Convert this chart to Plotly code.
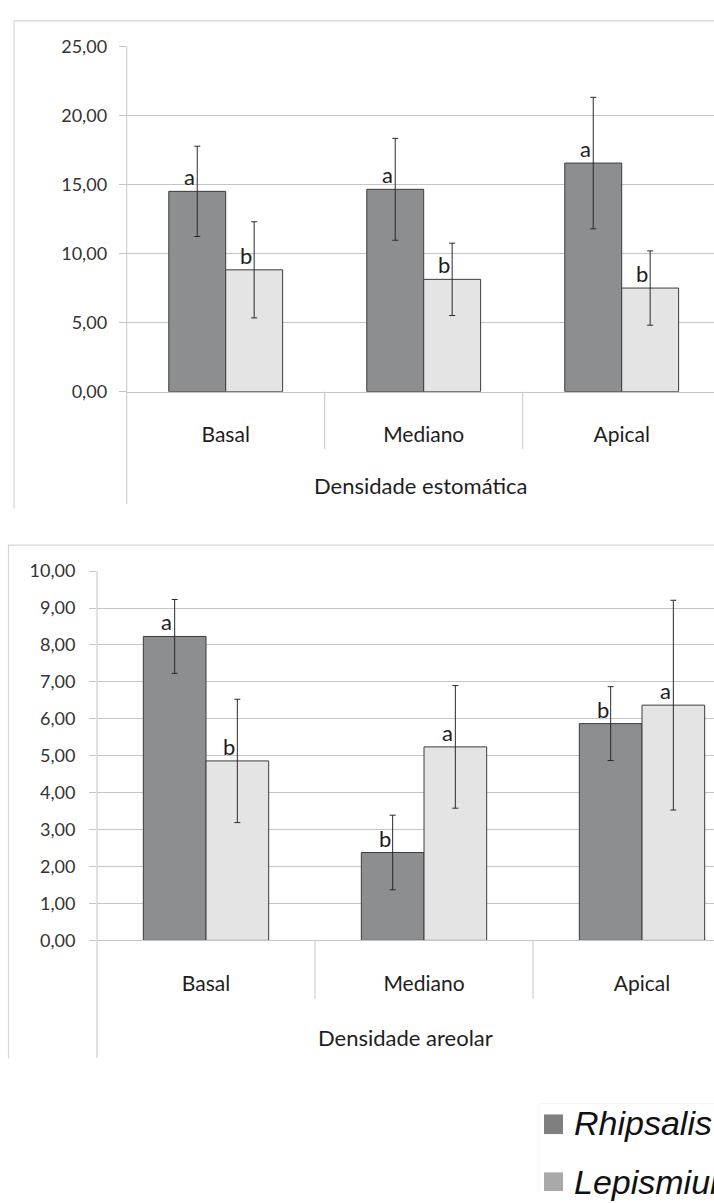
import plotly.graph_objects as go

categories = ["Basal", "Mediano", "Apical"]

# Densidade estomática
stom_rhip = [14.50, 14.65, 16.55]
stom_rhip_err = [3.27, 3.69, 4.76]
stom_lepi = [8.82, 8.13, 7.50]
stom_lepi_err = [3.48, 2.62, 2.69]
stom_rhip_letters = ["a", "a", "a"]
stom_lepi_letters = ["b", "b", "b"]

# Densidade areolar
areo_rhip = [8.23, 2.38, 5.87]
areo_rhip_err = [1.00, 1.01, 1.00]
areo_lepi = [4.86, 5.24, 6.37]
areo_lepi_err = [1.67, 1.66, 2.84]
areo_rhip_letters = ["a", "b", "b"]
areo_lepi_letters = ["b", "a", "a"]

series_names = ["Rhipsalis", "Lepismium"]

W, H = 714, 1203
DARK = "#8d8e90"
LIGHT = "#e4e4e4"
EDGE = "#3c3c3c"
GRID = "#c4c4c4"
FONT = "Lato"
BARGAP = 0.425

def py(px):  # pixel from top -> paper y
    return 1 - px / H

def px_(x):
    return x / W

fig = go.Figure()

def add_pair(xa, ya, v1, e1, v2, e2):
    for vals, errs, col, name in ((v1, e1, DARK, series_names[0]), (v2, e2, LIGHT, series_names[1])):
        fig.add_trace(go.Bar(
            x=categories, y=vals, name=name, xaxis=xa, yaxis=ya,
            marker=dict(color=col, line=dict(color=EDGE, width=1)),
            error_y=dict(type="data", array=errs, color="#2a2a2a", thickness=1, width=3),
            showlegend=False,
        ))

add_pair("x", "y", stom_rhip, stom_rhip_err, stom_lepi, stom_lepi_err)
add_pair("x2", "y2", areo_rhip, areo_rhip_err, areo_lepi, areo_lepi_err)

# letters
half = (1 - BARGAP) / 4
annots = []
def add_letters(xr, yr, vals, letters, side):
    for i, (v, t) in enumerate(zip(vals, letters)):
        annots.append(dict(x=i + side * half, y=v, xref=xr, yref=yr, text=t, showarrow=False,
                           xanchor="center", yanchor="bottom", xshift=-8, yshift=-1,
                           font=dict(family=FONT, size=22, color="#1e1e1e")))

add_letters("x", "y", stom_rhip, stom_rhip_letters, -1)
add_letters("x", "y", stom_lepi, stom_lepi_letters, 1)
add_letters("x2", "y2", areo_rhip, areo_rhip_letters, -1)
add_letters("x2", "y2", areo_lepi, areo_lepi_letters, 1)

# axis group titles
annots.append(dict(x=0.5, y=-0.271, xref="x domain", yref="y domain", text="Densidade estomática",
                   showarrow=False, xanchor="center", yanchor="middle",
                   font=dict(family=FONT, size=22, color="#1e1e1e")))
annots.append(dict(x=0.5, y=-0.264, xref="x2 domain", yref="y2 domain", text="Densidade areolar",
                   showarrow=False, xanchor="center", yanchor="middle",
                   font=dict(family=FONT, size=22, color="#1e1e1e")))

# legend (pasted) text
annots.append(dict(x=px_(572), y=py(1132), xref="paper", yref="paper", text="<i>Rhipsalis</i>",
                   showarrow=False, xanchor="left", yanchor="middle",
                   font=dict(family="Liberation Sans", size=34, color="#111111")))
annots.append(dict(x=px_(572), y=py(1192), xref="paper", yref="paper", text="<i>Lepismium</i>",
                   showarrow=False, xanchor="left", yanchor="middle",
                   font=dict(family="Liberation Sans", size=34, color="#111111")))

shapes = []
# frames
shapes.append(dict(type="path", xref="paper", yref="paper",
                   path=f"M {px_(14)} {py(506)} L {px_(14)} {py(9)} L 1.01 {py(9)}",
                   line=dict(color="#d6d6d6", width=1.2)))
shapes.append(dict(type="path", xref="paper", yref="paper",
                   path=f"M {px_(8.5)} {py(1066)} L {px_(8.5)} {py(543)} L 1.01 {py(543)}",
                   line=dict(color="#d6d6d6", width=1.2)))
# legend faint box
shapes.append(dict(type="path", xref="paper", yref="paper",
                   path=f"M {px_(539)} {py(1203)} L {px_(539)} {py(1112)} L 1.01 {py(1112)}",
                   line=dict(color="#f5f5f5", width=1)))
# legend squares
shapes.append(dict(type="rect", xref="paper", yref="paper", x0=px_(544), x1=px_(563), y0=py(1143), y1=py(1123),
                   fillcolor="#7f7f7f", line=dict(width=0)))
shapes.append(dict(type="rect", xref="paper", yref="paper", x0=px_(544), x1=px_(563), y0=py(1201), y1=py(1182),
                   fillcolor="#a9a9a9", line=dict(width=0)))

# y axis lines extended down + category dividers
for xr, yr, ybot, ydiv in (("x", "y", -0.325, -0.166), ("x2", "y2", -0.318, -0.158)):
    shapes.append(dict(type="line", xref=f"{xr} domain", yref=f"{yr} domain", x0=0, x1=0, y0=ybot, y1=1,
                       line=dict(color=GRID, width=1)))
    for b in (0.5, 1.5):
        shapes.append(dict(type="line", xref=xr, yref=f"{yr} domain", x0=b, x1=b, y0=ydiv, y1=0,
                           line=dict(color=GRID, width=1)))

tickfont = dict(family=FONT, size=18, color="#333333")
catfont = dict(family=FONT, size=21, color="#1e1e1e")

fig.update_layout(
    width=W, height=H,
    margin=dict(l=0, r=0, t=0, b=0),
    paper_bgcolor="white", plot_bgcolor="white",
    barmode="group", bargap=BARGAP, bargroupgap=0,
    separators=",.",
    showlegend=False,
    annotations=annots, shapes=shapes,
    xaxis=dict(domain=[126.7 / W, 1], range=[-0.5, -0.5 + (W - 126.7) / 198], type="category",
               showline=True, linecolor=GRID, linewidth=1, ticks="", showgrid=False,
               tickfont=catfont, ticklabelstandoff=24, anchor="y"),
    yaxis=dict(domain=[py(386.7), py(35)], range=[0, 25], dtick=5, tickformat=".2f",
               showgrid=True, gridcolor=GRID, gridwidth=1, zeroline=False, showline=False,
               ticks="outside", ticklen=7, tickcolor=GRID, tickfont=tickfont, ticklabelstandoff=8,
               anchor="x"),
    xaxis2=dict(domain=[97 / W, 1], range=[-0.5, -0.5 + (W - 97) / 218], type="category",
                showline=True, linecolor=GRID, linewidth=1, ticks="", showgrid=False,
                tickfont=catfont, ticklabelstandoff=24, anchor="y2"),
    yaxis2=dict(domain=[py(945.7), py(569.5)], range=[0, 10], dtick=1, tickformat=".2f",
                showgrid=True, gridcolor=GRID, gridwidth=1, zeroline=False, showline=False,
                ticks="outside", ticklen=7, tickcolor=GRID, tickfont=tickfont, ticklabelstandoff=10,
                anchor="x2"),
)

fig.write_html("out.html", config={"displayModeBar": False},
               post_script="document.body.style.margin='0';document.body.style.overflow='hidden';")
